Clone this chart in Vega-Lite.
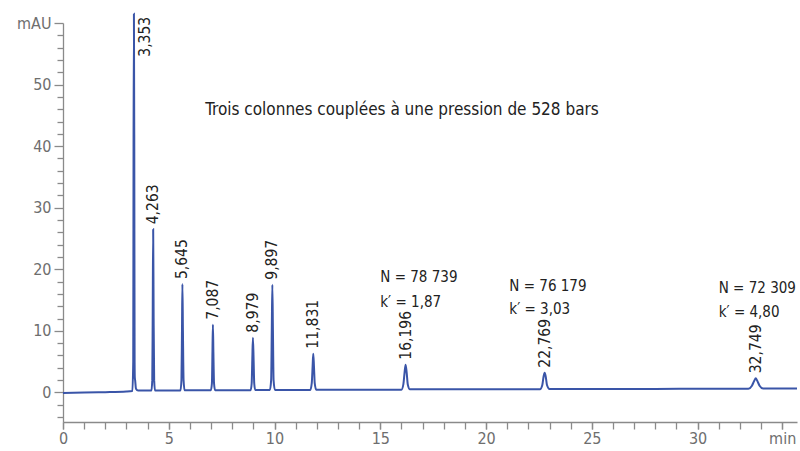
{
  "$schema": "https://vega.github.io/schema/vega-lite/v6.json",
  "width": 734,
  "height": 399,
  "autosize": {"type": "none"},
  "padding": {"left": 63, "top": 23, "right": 3, "bottom": 29},
  "background": "white",
  "config": {
    "view": {"stroke": null},
    "font": "DejaVu Sans Condensed, Roboto",
    "axis": {
      "grid": false,
      "domainColor": "#8a8a8a",
      "tickColor": "#8a8a8a",
      "domainWidth": 1.3,
      "tickWidth": 1.3,
      "labelColor": "#6e6e6e",
      "labelFont": "DejaVu Sans Condensed, Roboto",
      "labelFontSize": 16,
      "titleColor": "#6e6e6e"
    }
  },
  "resolve": {"axis": {"x": "independent", "y": "independent"}},
  "datasets": {
    "trace": [
      {"t": 0, "v": -0.1}, {"t": 1, "v": 0.0}, {"t": 2, "v": 0.05}, {"t": 3, "v": 0.15}, {"t": 3.28, "v": 0.25},
      {"t": 3.32, "v": 5}, {"t": 3.335, "v": 40}, {"t": 3.353, "v": 61.5}, {"t": 3.37, "v": 40}, {"t": 3.385, "v": 5},
      {"t": 3.395, "v": 2.4}, {"t": 3.41, "v": 2.0}, {"t": 3.45, "v": 0.6}, {"t": 3.55, "v": 0.3},
      {"t": 4.18, "v": 0.3}, {"t": 4.22, "v": 2}, {"t": 4.24, "v": 12}, {"t": 4.263, "v": 26.5}, {"t": 4.285, "v": 12}, {"t": 4.31, "v": 2}, {"t": 4.35, "v": 0.3},
      {"t": 5.55, "v": 0.3}, {"t": 5.6, "v": 2}, {"t": 5.625, "v": 10}, {"t": 5.645, "v": 17.6}, {"t": 5.67, "v": 10}, {"t": 5.7, "v": 2}, {"t": 5.75, "v": 0.35},
      {"t": 6.99, "v": 0.35}, {"t": 7.04, "v": 1.5}, {"t": 7.065, "v": 6.5}, {"t": 7.087, "v": 11.0}, {"t": 7.11, "v": 6.5}, {"t": 7.14, "v": 1.5}, {"t": 7.19, "v": 0.35},
      {"t": 8.87, "v": 0.35}, {"t": 8.92, "v": 1.5}, {"t": 8.95, "v": 5.5}, {"t": 8.979, "v": 8.9}, {"t": 9.01, "v": 5.5}, {"t": 9.04, "v": 1.5}, {"t": 9.09, "v": 0.4},
      {"t": 9.78, "v": 0.4}, {"t": 9.84, "v": 2}, {"t": 9.87, "v": 10}, {"t": 9.897, "v": 17.5}, {"t": 9.925, "v": 10}, {"t": 9.955, "v": 2}, {"t": 10.02, "v": 0.4},
      {"t": 11.69, "v": 0.4}, {"t": 11.76, "v": 1.5}, {"t": 11.8, "v": 4.2}, {"t": 11.831, "v": 6.3}, {"t": 11.865, "v": 4.2}, {"t": 11.9, "v": 1.5}, {"t": 11.97, "v": 0.45},
      {"t": 13, "v": 0.45}, {"t": 14.5, "v": 0.45},
      {"t": 16.0, "v": 0.45}, {"t": 16.09, "v": 1.3}, {"t": 16.15, "v": 3.3}, {"t": 16.196, "v": 4.5}, {"t": 16.245, "v": 3.3}, {"t": 16.3, "v": 1.3}, {"t": 16.4, "v": 0.5},
      {"t": 18, "v": 0.5}, {"t": 20, "v": 0.5},
      {"t": 22.55, "v": 0.5}, {"t": 22.66, "v": 1.2}, {"t": 22.72, "v": 2.6}, {"t": 22.769, "v": 3.2}, {"t": 22.82, "v": 2.6}, {"t": 22.88, "v": 1.2}, {"t": 23.0, "v": 0.55},
      {"t": 25, "v": 0.55}, {"t": 28, "v": 0.55}, {"t": 30, "v": 0.6},
      {"t": 32.4, "v": 0.6}, {"t": 32.57, "v": 1.1}, {"t": 32.68, "v": 1.9}, {"t": 32.749, "v": 2.3}, {"t": 32.82, "v": 1.9}, {"t": 32.93, "v": 1.1}, {"t": 33.1, "v": 0.65},
      {"t": 34.7, "v": 0.65}
    ],
    "peaks": [
      {"rt": 3.353, "height": 61.5, "label": "3,353"},
      {"rt": 4.263, "height": 26.5, "label": "4,263"},
      {"rt": 5.645, "height": 17.6, "label": "5,645"},
      {"rt": 7.087, "height": 11.0, "label": "7,087"},
      {"rt": 8.979, "height": 8.9, "label": "8,979"},
      {"rt": 9.897, "height": 17.5, "label": "9,897"},
      {"rt": 11.831, "height": 6.3, "label": "11,831"},
      {"rt": 16.196, "height": 4.5, "label": "16,196"},
      {"rt": 22.769, "height": 3.2, "label": "22,769"},
      {"rt": 32.749, "height": 2.3, "label": "32,749"}
    ],
    "notes": [
      {"x": 15.0, "y": 18.7, "text": "N = 78 739"},
      {"x": 15.0, "y": 14.7, "text": "k′ = 1,87"},
      {"x": 21.1, "y": 17.3, "text": "N = 76 179"},
      {"x": 21.1, "y": 13.5, "text": "k′ = 3,03"},
      {"x": 31.0, "y": 16.9, "text": "N = 72 309"},
      {"x": 31.0, "y": 13.0, "text": "k′ = 4,80"}
    ],
    "title": [
      {"x": 6.72, "y": 45.9, "text": "Trois colonnes couplées à une pression de 528 bars"}
    ]
  },
  "layer": [
    {
      "data": {"name": "trace"},
      "mark": {"type": "line", "color": "#3a55a8", "strokeWidth": 2, "interpolate": "monotone"},
      "encoding": {
        "x": {
          "field": "t", "type": "quantitative",
          "scale": {"domain": [0, 34.7], "nice": false, "zero": false},
          "axis": {
            "title": null, "orient": "bottom",
            "values": [0, 5, 10, 15, 20, 25, 30, 34],
            "labelExpr": "datum.value == 34 ? 'min' : datum.label",
            "tickSize": 7,
            "labelPadding": 1,
            "labelFlush": false,
            "labelOverlap": false
          }
        },
        "y": {
          "field": "v", "type": "quantitative",
          "scale": {"domain": [-4.8, 60], "nice": false, "zero": false},
          "axis": {
            "title": null, "orient": "left",
            "values": [0, 10, 20, 30, 40, 50, 60],
            "labelExpr": "datum.value == 60 ? 'mAU' : datum.label",
            "tickSize": 9,
            "labelPadding": 3,
            "labelFlush": false,
            "labelOverlap": false
          }
        }
      }
    },
    {
      "data": {"name": "peaks"},
      "transform": [{"filter": "datum.rt > 4"}],
      "mark": {"type": "text", "angle": 270, "align": "left", "baseline": "middle", "dx": 5, "fontSize": 15.5, "color": "#222222"},
      "encoding": {
        "x": {
          "field": "rt", "type": "quantitative",
          "axis": {
            "title": null, "orient": "bottom",
            "values": [0,1,2,3,4,5,6,7,8,9,10,11,12,13,14,15,16,17,18,19,20,21,22,23,24,25,26,27,28,29,30,31,32,33,34],
            "labels": false, "domain": false, "tickSize": 7
          }
        },
        "y": {
          "field": "height", "type": "quantitative",
          "axis": {
            "title": null, "orient": "left",
            "values": [-4,-2,2,4,6,8,12,14,16,18,22,24,26,28,32,34,36,38,42,44,46,48,52,54,56,58],
            "labels": false, "domain": false, "tickSize": 6
          }
        },
        "text": {"field": "label"}
      }
    },
    {
      "data": {"name": "peaks"},
      "transform": [{"filter": "datum.rt < 4"}],
      "mark": {"type": "text", "angle": 270, "align": "right", "baseline": "middle", "dx": -3, "dy": 11, "fontSize": 15.5, "color": "#222222"},
      "encoding": {
        "x": {"field": "rt", "type": "quantitative", "axis": null},
        "y": {"field": "height", "type": "quantitative", "axis": null},
        "text": {"field": "label"}
      }
    },
    {
      "data": {"name": "notes"},
      "mark": {"type": "text", "align": "left", "baseline": "middle", "fontSize": 15, "color": "#222222"},
      "encoding": {
        "x": {"field": "x", "type": "quantitative", "axis": null},
        "y": {"field": "y", "type": "quantitative", "axis": null},
        "text": {"field": "text"}
      }
    },
    {
      "data": {"name": "title"},
      "mark": {"type": "text", "align": "left", "baseline": "middle", "fontSize": 17, "color": "#222222"},
      "encoding": {
        "x": {"field": "x", "type": "quantitative", "axis": null},
        "y": {"field": "y", "type": "quantitative", "axis": null},
        "text": {"field": "text"}
      }
    }
  ]
}
